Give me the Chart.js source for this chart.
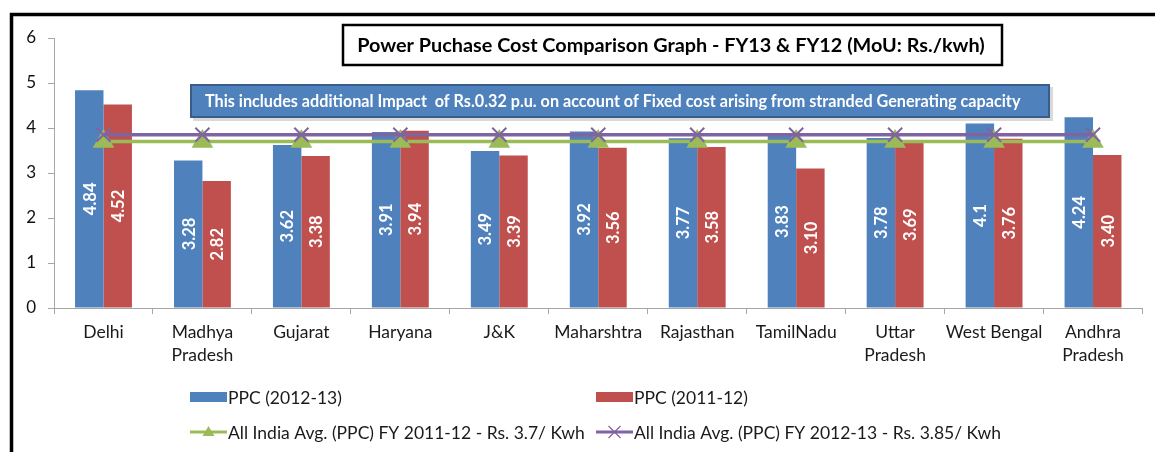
<!DOCTYPE html>
<html>
<head>
<meta charset="utf-8">
<script src="https://cdn.jsdelivr.net/npm/chart.js@4.4.0/dist/chart.umd.min.js"></script>
<style>
  html, body { margin: 0; padding: 0; background: #fff; }
  #wrap { width: 1155px; height: 452px; position: relative; }
</style>
</head>
<body>
<div id="wrap"><canvas id="ppcChart"></canvas></div>
<script>
const states = [['Delhi'], ['Madhya', 'Pradesh'], ['Gujarat'], ['Haryana'], ['J&K'], ['Maharshtra'],
  ['Rajasthan'], ['TamilNadu'], ['Uttar', 'Pradesh'], ['West Bengal'], ['Andhra', 'Pradesh']];
const ppc1213 = [4.84, 3.28, 3.62, 3.91, 3.49, 3.92, 3.77, 3.83, 3.78, 4.1, 4.24];
const ppc1112 = [4.52, 2.82, 3.38, 3.94, 3.39, 3.56, 3.58, 3.10, 3.69, 3.76, 3.40];
const avg1112 = [3.7, 3.7, 3.7, 3.7, 3.7, 3.7, 3.7, 3.7, 3.7, 3.7, 3.7];
const avg1213 = [3.85, 3.85, 3.85, 3.85, 3.85, 3.85, 3.85, 3.85, 3.85, 3.85, 3.85];
const yTicks = [0, 1, 2, 3, 4, 5, 6];

const titleText = 'Power Puchase Cost Comparison Graph - FY13 & FY12 (MoU: Rs./kwh)';
const noteText = 'This includes additional Impact  of Rs.0.32 p.u. on account of Fixed cost arising from stranded Generating capacity';

const blue = '#4F81BD', red = '#C0504D', green = '#9BBB59', purple = '#8064A2';
const FONT = 'Lato, "Open Sans", sans-serif';

// fit a bold string into a given width
function fitFont(ctx, text, width, weight) {
  let size = 20;
  ctx.font = weight + ' ' + size + 'px ' + FONT;
  size = size * width / ctx.measureText(text).width;
  ctx.font = weight + ' ' + size + 'px ' + FONT;
}

const decorPlugin = {
  id: 'decor',
  beforeDraw(chart) {
    const ctx = chart.ctx;
    ctx.save();
    ctx.fillStyle = '#fff';
    ctx.fillRect(0, 0, chart.width, chart.height);
    // outer frame (top and left edges visible)
    ctx.strokeStyle = '#000';
    ctx.lineWidth = 3.5;
    ctx.beginPath();
    ctx.moveTo(1155, 14.5);
    ctx.lineTo(11.5, 14.5);
    ctx.lineTo(11.5, 452);
    ctx.stroke();
    ctx.restore();
  },
  afterDatasetsDraw(chart) {
    const ctx = chart.ctx;
    ctx.save();
    ctx.fillStyle = '#fff';
    ctx.font = 'bold 16.5px ' + FONT;
    ctx.textAlign = 'center';
    ctx.textBaseline = 'middle';
    [0, 1].forEach(di => {
      const meta = chart.getDatasetMeta(di);
      const vals = chart.data.datasets[di].data;
      meta.data.forEach((bar, i) => {
        const txt = di === 0 ? String(vals[i]) : vals[i].toFixed(2);
        const cy = (bar.y + bar.base) / 2;
        ctx.save();
        ctx.translate(bar.x, cy);
        ctx.rotate(-Math.PI / 2);
        ctx.fillText(txt, 0, 1);
        ctx.restore();
      });
    });
    ctx.restore();
  },
  afterDraw(chart) {
    const ctx = chart.ctx;
    ctx.save();
    // title box
    ctx.fillStyle = '#fff';
    ctx.fillRect(342, 24, 661, 42);
    ctx.strokeStyle = '#000';
    ctx.lineWidth = 2.5;
    ctx.strokeRect(343, 25, 659, 40);
    ctx.fillStyle = '#000';
    fitFont(ctx, titleText, 628, 'bold');
    ctx.textAlign = 'center';
    ctx.textBaseline = 'middle';
    ctx.fillText(titleText, 671, 46);

    // note box
    ctx.fillStyle = 'rgba(0,0,0,0.15)';
    ctx.fillRect(193, 87, 860, 34);
    ctx.fillStyle = blue;
    ctx.fillRect(190, 84, 860, 34);
    ctx.strokeStyle = '#385D8A';
    ctx.lineWidth = 2;
    ctx.strokeRect(191, 85, 858, 32);
    ctx.fillStyle = '#fff';
    fitFont(ctx, noteText, 816, 'bold');
    ctx.textAlign = 'left';
    ctx.fillText(noteText, 205, 102);

    // legend
    const ds = chart.data.datasets;
    ctx.font = '17.5px ' + FONT;
    ctx.textBaseline = 'middle';
    const slots = [[190, 397], [596, 397], [190, 432], [596, 432]];
    ds.forEach((d, i) => {
      const [x, y] = slots[i];
      if (d.type === 'bar' || !d.type) {
        ctx.fillStyle = d.backgroundColor;
        ctx.fillRect(x, y - 5, 37, 10);
      } else {
        ctx.strokeStyle = d.borderColor;
        ctx.lineWidth = 3;
        ctx.beginPath();
        ctx.moveTo(x, y);
        ctx.lineTo(x + 37, y);
        ctx.stroke();
        const cx = x + 18.5;
        if (d.pointStyle === 'triangle') {
          ctx.fillStyle = d.borderColor;
          ctx.beginPath();
          ctx.moveTo(cx, y - 6);
          ctx.lineTo(cx + 6, y + 4);
          ctx.lineTo(cx - 6, y + 4);
          ctx.closePath();
          ctx.fill();
        } else {
          ctx.lineWidth = 1.2;
          ctx.beginPath();
          ctx.moveTo(cx - 6, y - 6); ctx.lineTo(cx + 6, y + 6);
          ctx.moveTo(cx + 6, y - 6); ctx.lineTo(cx - 6, y + 6);
          ctx.stroke();
        }
      }
      ctx.fillStyle = '#1a1a1a';
      ctx.fillText(d.label, x + 38, y + 1);
    });
    ctx.restore();
  }
};

new Chart(document.getElementById('ppcChart'), {
  data: {
    labels: states,
    datasets: [
      { type: 'bar', label: 'PPC (2012-13)', data: ppc1213, backgroundColor: blue, order: 2,
        categoryPercentage: 0.575, barPercentage: 1 },
      { type: 'bar', label: 'PPC (2011-12)', data: ppc1112, backgroundColor: red, order: 2,
        categoryPercentage: 0.575, barPercentage: 1 },
      { type: 'line', label: 'All India Avg. (PPC) FY 2011-12 - Rs. 3.7/ Kwh', data: avg1112,
        borderColor: green, backgroundColor: green, borderWidth: 3.5, pointStyle: 'triangle',
        pointRadius: 9, pointBackgroundColor: green, pointBorderColor: green, order: 1 },
      { type: 'line', label: 'All India Avg. (PPC) FY 2012-13 - Rs. 3.85/ Kwh', data: avg1213,
        borderColor: purple, backgroundColor: purple, borderWidth: 3.5, pointStyle: 'crossRot',
        pointRadius: 10, pointBorderWidth: 2, pointBorderColor: purple, order: 0 }
    ]
  },
  options: {
    responsive: true,
    maintainAspectRatio: false,
    animation: false,
    events: [],
    layout: { padding: { top: 38, right: 11, left: 0, bottom: 0 } },
    plugins: { legend: { display: false }, tooltip: { enabled: false }, title: { display: false } },
    scales: {
      x: {
        offset: true,
        grid: { display: true, drawOnChartArea: false, tickLength: 6, color: '#A6A6A6', offset: true },
        border: { color: '#A6A6A6' },
        ticks: { color: '#1a1a1a', font: { family: FONT, size: 17.5, lineHeight: 1.3 }, padding: 7, maxRotation: 0, autoSkip: false },
        afterFit(s) { s.height = 144; }
      },
      y: {
        min: 0, max: 6,
        afterBuildTicks(s) { s.ticks = yTicks.map(v => ({ value: v })); },
        grid: { display: true, drawOnChartArea: false, tickLength: 6, color: '#A6A6A6' },
        border: { color: '#A6A6A6' },
        ticks: { color: '#111', font: { family: FONT, size: 17 }, padding: 12 },
        afterFit(s) { s.width = 54; }
      }
    }
  },
  plugins: [decorPlugin]
});
</script>
</body>
</html>
